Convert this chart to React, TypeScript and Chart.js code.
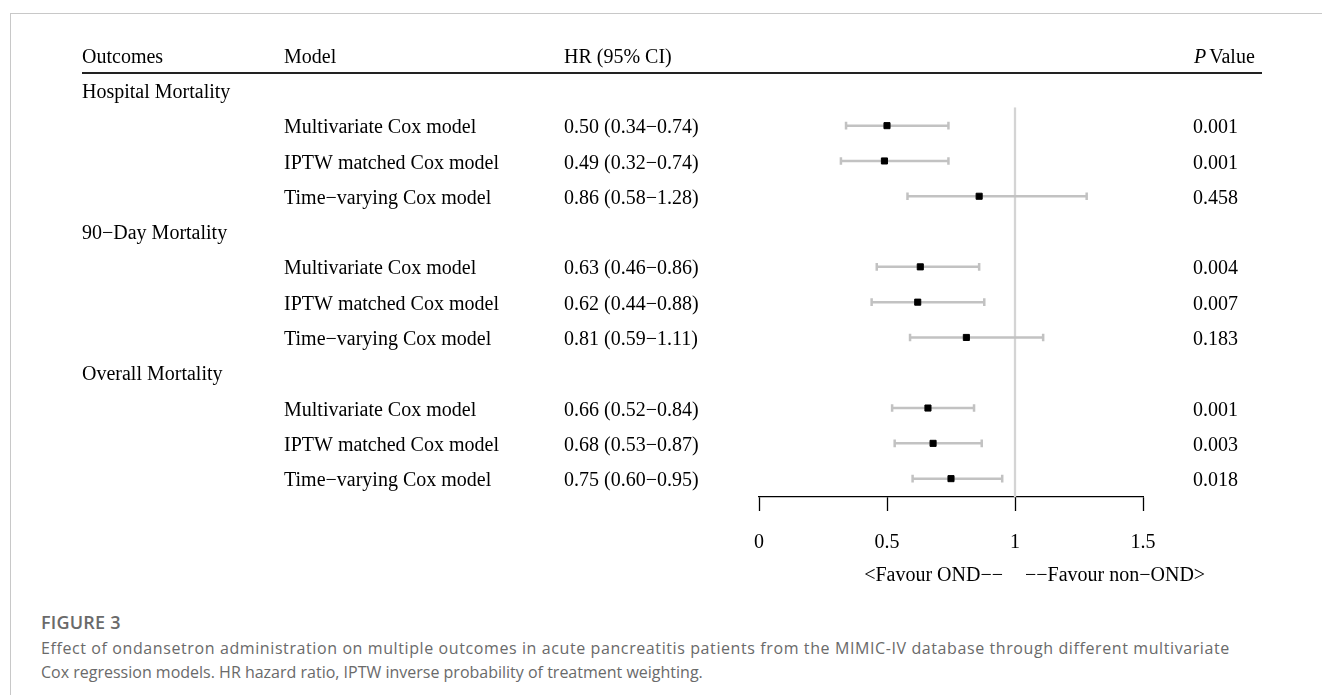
import React, { useEffect, useRef } from "react";
import { Chart, registerables } from "chart.js";

Chart.register(...registerables);

const outcomes = ["Hospital Mortality", "90−Day Mortality", "Overall Mortality"];
const models = [
  "Multivariate Cox model",
  "IPTW matched Cox model",
  "Time−varying Cox model",
];
const hr = [0.5, 0.49, 0.86, 0.63, 0.62, 0.81, 0.66, 0.68, 0.75];
const lower = [0.34, 0.32, 0.58, 0.46, 0.44, 0.59, 0.52, 0.53, 0.6];
const upper = [0.74, 0.74, 1.28, 0.86, 0.88, 1.11, 0.84, 0.87, 0.95];
const hrLabels = [
  "0.50 (0.34−0.74)",
  "0.49 (0.32−0.74)",
  "0.86 (0.58−1.28)",
  "0.63 (0.46−0.86)",
  "0.62 (0.44−0.88)",
  "0.81 (0.59−1.11)",
  "0.66 (0.52−0.84)",
  "0.68 (0.53−0.87)",
  "0.75 (0.60−0.95)",
];
const pValues = ["0.001", "0.001", "0.458", "0.004", "0.007", "0.183", "0.001", "0.003", "0.018"];
const headers = ["Outcomes", "Model", "HR (95% CI)", "Value"];
const xTicks = [0, 0.5, 1, 1.5];
const xTickLabels = ["0", "0.5", "1", "1.5"];
const favourLeft = "<Favour OND−−";
const favourRight = "−−Favour non−OND>";
const captionTitle = "FIGURE 3";
const captionLine1 =
  "Effect of ondansetron administration on multiple outcomes in acute pancreatitis patients from the MIMIC-IV database through different multivariate";
const captionLine2 =
  "Cox regression models. HR hazard ratio, IPTW inverse probability of treatment weighting.";

const SERIF = '"Liberation Serif", "Times New Roman", serif';
const rowOf = (i: number) => Math.floor(i / 3) * 4 + (i % 3) + 1;
const groupRow = (g: number) => g * 4;

const textPlugin = {
  id: "forestText",
  afterDraw(chart: any) {
    const { ctx } = chart;
    const xs = chart.scales.x;
    const ys = chart.scales.y;
    const col = { outcome: 82, model: 284, hr: 564, p: 1193 };
    ctx.save();
    ctx.fillStyle = "#000";
    ctx.textBaseline = "alphabetic";
    ctx.font = `20px ${SERIF}`;
    const base = (row: number) => ys.getPixelForValue(row) + 7.6;

    // header
    const hb = base(-1);
    ctx.textAlign = "left";
    ctx.fillText(headers[0], col.outcome, hb);
    ctx.fillText(headers[1], col.model, hb);
    ctx.fillText(headers[2], col.hr, hb);
    ctx.font = `italic 20px ${SERIF}`;
    ctx.fillText("P", col.p + 1, hb);
    const pw = ctx.measureText("P").width;
    ctx.font = `20px ${SERIF}`;
    ctx.fillText(headers[3], col.p + 1 + pw + 3, hb);

    // header rule
    const ry = Math.round(ys.getPixelForValue(-0.48));
    ctx.strokeStyle = "#222";
    ctx.lineWidth = 2;
    ctx.beginPath();
    ctx.moveTo(82, ry);
    ctx.lineTo(1262, ry);
    ctx.stroke();

    // group labels
    outcomes.forEach((o, g) => {
      ctx.fillText(o, col.outcome, base(groupRow(g)));
    });
    // rows
    hr.forEach((_, i) => {
      const b = base(rowOf(i));
      ctx.fillText(models[i % 3], col.model, b);
      ctx.fillText(hrLabels[i], col.hr, b);
      ctx.fillText(pValues[i], col.p, b);
    });

    // favour labels
    const x1 = xs.getPixelForValue(1);
    ctx.textAlign = "right";
    ctx.fillText(favourLeft, x1 - 12, 581);
    ctx.textAlign = "left";
    ctx.fillText(favourRight, x1 + 10, 581);
    ctx.restore();
  },
};

function ForestChart() {
  const ref = useRef<HTMLCanvasElement | null>(null);
  useEffect(() => {
    if (!ref.current) return;
    const ciSets = hr.map((_, i) => ({
      data: [
        { x: lower[i], y: rowOf(i) },
        { x: upper[i], y: rowOf(i) },
      ],
      showLine: true,
      borderColor: "#c2c2c2",
      borderWidth: 2.5,
      pointStyle: "line",
      rotation: 90,
      pointRadius: 3.8,
      pointBorderColor: "#c2c2c2",
      pointBorderWidth: 2.5,
      order: 1,
    }));
    const chart = new Chart(ref.current, {
      type: "scatter",
      data: {
        datasets: [
          {
            data: hr.map((v, i) => ({ x: v, y: rowOf(i) })),
            pointStyle: "rect",
            pointRadius: 4.3,
            backgroundColor: "#000",
            borderColor: "#000",
            borderWidth: 1,
            order: 0,
          } as any,
          ...ciSets,
          {
            data: [
              { x: 1, y: 0.48 },
              { x: 1, y: 11.52 },
            ],
            showLine: true,
            borderColor: "#d4d4d4",
            borderWidth: 2.3,
            pointRadius: 0,
            order: 2,
          },
        ],
      },
      options: {
        animation: false,
        responsive: false,
        maintainAspectRatio: false,
        layout: { padding: { left: 759, right: 179, top: 107.3, bottom: 25 } },
        plugins: { legend: { display: false }, tooltip: { enabled: false } },
        scales: {
          x: {
            type: "linear",
            min: 0,
            max: 1.5,
            afterBuildTicks: (s: any) => {
              s.ticks = xTicks.map((v) => ({ value: v }));
            },
            ticks: {
              color: "#000",
              font: { family: SERIF, size: 20 },
              padding: 20,
              maxRotation: 0,
              callback: (v: any) => {
                const k = xTicks.indexOf(Number(v));
                return k >= 0 ? xTickLabels[k] : "";
              },
            },
            grid: {
              drawOnChartArea: false,
              drawTicks: true,
              tickLength: 14,
              tickColor: "#000",
              tickWidth: 1.3,
            },
            border: { display: true, color: "#000", width: 1.3 },
          },
          y: {
            type: "linear",
            display: false,
            min: 0.48,
            max: 11.52,
            reverse: true,
          },
        },
      },
      plugins: [textPlugin],
    } as any);
    return () => chart.destroy();
  }, []);
  return (
    <canvas
      ref={ref}
      width={1322}
      height={600}
      style={{ position: "absolute", left: 0, top: 0, width: 1322, height: 600 }}
    />
  );
}

export default function App() {
  const capFont = '"Open Sans", "Noto Sans", sans-serif';
  return (
    <div
      style={{
        position: "absolute",
        left: 0,
        top: 0,
        width: 1322,
        height: 695,
        background: "#fff",
        overflow: "hidden",
      }}
    >
      <div
        style={{
          position: "absolute",
          left: 10,
          top: 13,
          width: 1312,
          height: 682,
          borderTop: "1px solid #c8c8c8",
          borderLeft: "1px solid #c8c8c8",
          boxSizing: "border-box",
        }}
      />
      <ForestChart />
      <div
        style={{
          position: "absolute",
          left: 41,
          top: 608,
          fontFamily: capFont,
          color: "#6a6a6a",
          fontSize: 16,
          lineHeight: "24px",
          whiteSpace: "nowrap",
        }}
      >
        <div style={{ fontWeight: 600, fontSize: 18, lineHeight: "28px", letterSpacing: "0.2px" }}>
          {captionTitle}
        </div>
        <div style={{ letterSpacing: "0.6px" }}>{captionLine1}</div>
        <div style={{ letterSpacing: "0px" }}>{captionLine2}</div>
      </div>
    </div>
  );
}
